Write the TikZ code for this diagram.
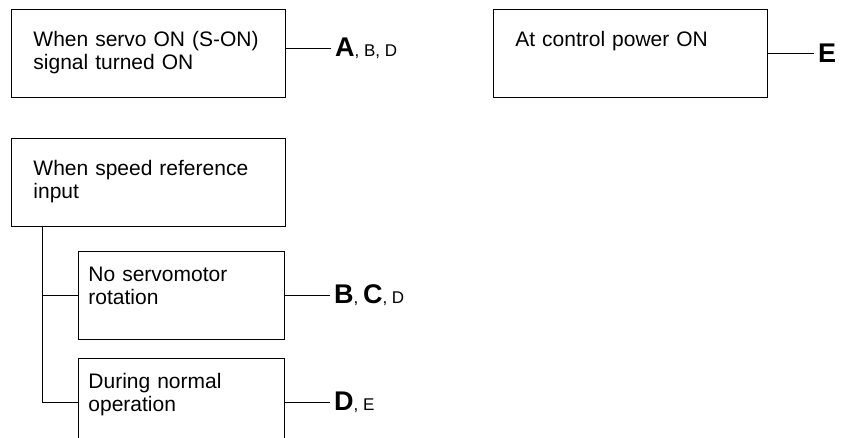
\documentclass[tikz,border=0pt]{standalone}
\usepackage{fontspec}
\setmainfont{Liberation Sans}
\usetikzlibrary{positioning}

\newcommand{\mainkey}[1]{{\fontsize{27}{28}\selectfont\bfseries #1}}

\begin{document}
\begin{tikzpicture}[x=1pt, y=-1pt,
  box/.style={rectangle, draw, line width=0.9pt, minimum height=88pt, inner xsep=22pt, text width=230pt, text height=15pt, text depth=29pt, align=left, font=\fontsize{21}{23}\selectfont},
  subbox/.style={box, inner xsep=10pt, text width=186pt, text depth=43pt},
  tag/.style={inner xsep=4pt, inner ysep=0pt, anchor=west, font=\fontsize{17}{18}\selectfont},
  link/.style={line width=0.9pt}
]
\useasboundingbox (0,0) rectangle (841,438);
\clip (0,0) rectangle (841,438);

\node[box, anchor=north west] (servo) at (11,9) {When servo ON (S-ON)\\signal turned ON};
\node[box, right=207pt of servo] (power) {At control power ON};
\node[box, below=40pt of servo] (speed) {When speed reference\\input};
\node[subbox, below right=24pt and 67pt of speed.south west] (norot) {No servomotor\\rotation};
\node[subbox, below=18pt of norot] (normal) {During normal\\operation};

\coordinate (servoE) at ([yshift=5pt]servo.east);
\node[tag, right=45pt of servoE] (servoT) {\mainkey{A}, B, D};
\node[tag, right=46pt of power.east] (powerT) {\mainkey{E}};
\node[tag, right=45pt of norot.east] (norotT) {\mainkey{B}, \mainkey{C}, D};
\node[tag, right=45pt of normal.east] (normalT) {\mainkey{D}, E};

\coordinate (trunk) at ([xshift=31pt]speed.south west);

\draw[link] (servoE) -- (servoT);
\draw[link] (power) -- (powerT);
\draw[link] (norot) -- (norotT);
\draw[link] (normal) -- (normalT);
\draw[link] (trunk) |- (norot.west);
\draw[link] (trunk) |- (normal.west);
\end{tikzpicture}
\end{document}
